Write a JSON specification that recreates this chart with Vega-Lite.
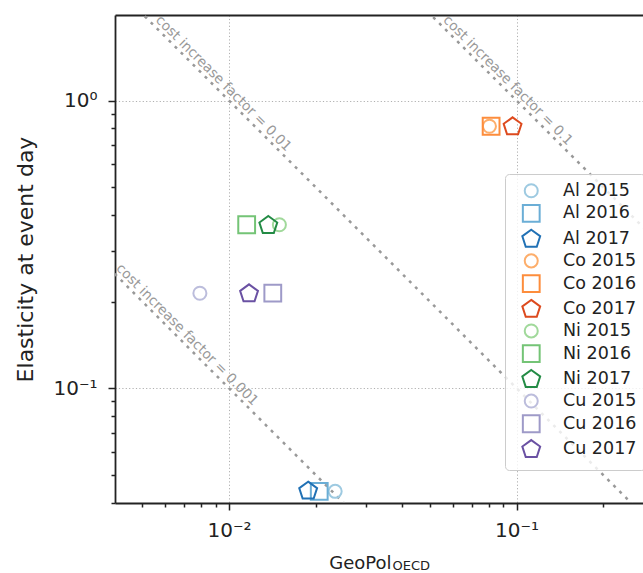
{
  "$schema": "https://vega.github.io/schema/vega-lite/v6.json",
  "width": 528,
  "height": 488,
  "autosize": "none",
  "padding": {"left": 115, "top": 15, "right": 0, "bottom": 70},
  "background": "white",
  "config": {
    "font": "DejaVu Sans",
    "view": {"stroke": null},
    "axis": {
      "domainColor": "#222222",
      "domainWidth": 1.8,
      "tickColor": "#222222",
      "tickWidth": 1.5,
      "labelColor": "#222222",
      "titleColor": "#222222",
      "labelFont": "DejaVu Sans",
      "titleFont": "DejaVu Sans",
      "titleFontWeight": "normal",
      "labelFontSize": 20,
      "gridColor": "#b0b0b0",
      "gridDash": [1.2, 2.2],
      "gridWidth": 1
    }
  },
  "datasets": {
    "lines": [
      {"factor": "0.001", "x": 0.003, "y": 0.33333},
      {"factor": "0.001", "x": 0.4, "y": 0.0025},
      {"factor": "0.01", "x": 0.003, "y": 3.33333},
      {"factor": "0.01", "x": 0.4, "y": 0.025},
      {"factor": "0.1", "x": 0.003, "y": 33.3333},
      {"factor": "0.1", "x": 0.4, "y": 0.25}
    ],
    "labels": [
      {"label": "cost increase factor = 0.001", "x": 0.003937, "y": 0.254},
      {"label": "cost increase factor = 0.01", "x": 0.005404, "y": 1.8505},
      {"label": "cost increase factor = 0.1", "x": 0.05404, "y": 1.8505}
    ],
    "points": [
      {"series": "Al 2015", "x": 0.0234, "y": 0.0438},
      {"series": "Al 2016", "x": 0.0206, "y": 0.0438},
      {"series": "Al 2017", "x": 0.01885, "y": 0.0439},
      {"series": "Co 2015", "x": 0.0805, "y": 0.814},
      {"series": "Co 2016", "x": 0.0816, "y": 0.814},
      {"series": "Co 2017", "x": 0.0969, "y": 0.811},
      {"series": "Ni 2015", "x": 0.01497, "y": 0.370},
      {"series": "Ni 2016", "x": 0.01152, "y": 0.370},
      {"series": "Ni 2017", "x": 0.0137, "y": 0.368},
      {"series": "Cu 2015", "x": 0.00792, "y": 0.2138},
      {"series": "Cu 2016", "x": 0.0142, "y": 0.214},
      {"series": "Cu 2017", "x": 0.01174, "y": 0.2130}
    ]
  },
  "resolve": {"axis": {"x": "independent"}},
  "layer": [
    {
      "data": {"name": "lines"},
      "mark": {"type": "line", "clip": true, "color": "#999999", "strokeWidth": 2.5, "strokeDash": [3, 5.5]},
      "encoding": {
        "x": {
          "field": "x", "type": "quantitative",
          "scale": {"type": "log", "domain": [0.004013, 0.2754], "nice": false},
          "axis": {"orient": "top", "labels": false, "ticks": false, "grid": false, "title": null}
        },
        "y": {
          "field": "y", "type": "quantitative",
          "scale": {"type": "log", "domain": [0.03989, 1.983], "nice": false},
          "axis": {"title": "Elasticity at event day"}
        },
        "detail": {"field": "factor", "type": "nominal"}
      }
    },
    {
      "data": {"name": "labels"},
      "mark": {"type": "text", "angle": 45, "align": "left", "baseline": "alphabetic", "dy": -4, "fontSize": 13.7, "color": "#999999"},
      "encoding": {
        "x": {
          "field": "x", "type": "quantitative",
          "scale": {"type": "log", "domain": [0.004013, 0.2754], "nice": false},
          "axis": {"orient": "bottom", "domain": false, "ticks": false, "labels": false, "grid": false,
                   "title": "OECD", "titleFontSize": 13, "titleAlign": "left", "titleX": 277, "titleY": 66.5, "titleBaseline": "alphabetic"}
        },
        "y": {
          "field": "y", "type": "quantitative",
          "scale": {"type": "log", "domain": [0.03989, 1.983], "nice": false},
          "axis": {"title": "Elasticity at event day"}
        },
        "text": {"field": "label", "type": "nominal"}
      }
    },
    {
      "data": {"name": "points"},
      "mark": {"type": "point", "filled": false, "strokeWidth": 2, "size": 225, "opacity": 1},
      "encoding": {
        "x": {
          "field": "x", "type": "quantitative",
          "scale": {"type": "log", "domain": [0.004013, 0.2754], "nice": false},
          "axis": {
            "orient": "bottom",
            "values": [0.004, 0.005, 0.006, 0.007, 0.008, 0.009, 0.01, 0.02, 0.03, 0.04, 0.05, 0.06, 0.07, 0.08, 0.09, 0.1, 0.2],
            "labelExpr": "datum.value == 0.01 ? '10⁻²' : datum.value == 0.1 ? '10⁻¹' : ''",
            "labelOverlap": false,
            "labelFlush": false,
            "labelFontSize": 20,
            "labelPadding": 10,
            "tickSize": {"condition": {"test": "datum.value == 0.01 || datum.value == 0.1", "value": 7}, "value": 4},
            "grid": true,
            "gridOpacity": {"condition": {"test": "datum.value == 0.01 || datum.value == 0.1", "value": 1}, "value": 0},
            "title": "GeoPol",
            "titleFontSize": 18,
            "titleAlign": "right",
            "titleX": 276,
            "titleY": 65,
            "titleBaseline": "alphabetic"
          }
        },
        "y": {
          "field": "y", "type": "quantitative",
          "scale": {"type": "log", "domain": [0.03989, 1.983], "nice": false},
          "axis": {
            "values": [0.04, 0.05, 0.06, 0.07, 0.08, 0.09, 0.1, 0.2, 0.3, 0.4, 0.5, 0.6, 0.7, 0.8, 0.9, 1, 2],
            "labelExpr": "datum.value == 1 ? '10⁰' : datum.value == 0.1 ? '10⁻¹' : ''",
            "labelOverlap": false,
            "labelFlush": false,
            "labelFontSize": 20,
            "labelPadding": 11,
            "tickSize": {"condition": {"test": "datum.value == 1 || datum.value == 0.1", "value": 7}, "value": 4},
            "grid": true,
            "gridOpacity": {"condition": {"test": "datum.value == 1 || datum.value == 0.1", "value": 1}, "value": 0},
            "title": "Elasticity at event day",
            "titleFontSize": 22,
            "titleX": -83,
            "titleBaseline": "alphabetic"
          }
        },
        "color": {
          "field": "series", "type": "nominal",
          "scale": {
            "domain": ["Al 2015", "Al 2016", "Al 2017", "Co 2015", "Co 2016", "Co 2017", "Ni 2015", "Ni 2016", "Ni 2017", "Cu 2015", "Cu 2016", "Cu 2017"],
            "range": ["#9ecae1", "#6baed6", "#2171b5", "#fdae6b", "#fd8d3c", "#dd4a1e", "#a1d99b", "#74c476", "#238b45", "#bcbddc", "#9e9ac8", "#6a51a3"]
          },
          "legend": {
            "orient": "none", "legendX": 390, "legendY": 159, "title": null,
            "padding": 8, "symbolOffset": 9.5, "labelOffset": 23, "rowPadding": -1.3,
            "symbolSize": 225, "symbolStrokeWidth": 2, "labelFontSize": 17.5, "labelColor": "#222222",
            "fillColor": "rgba(255,255,255,0.8)", "strokeColor": "#cccccc", "cornerRadius": 4
          }
        },
        "shape": {
          "field": "series", "type": "nominal",
          "scale": {
            "domain": ["Al 2015", "Al 2016", "Al 2017", "Co 2015", "Co 2016", "Co 2017", "Ni 2015", "Ni 2016", "Ni 2017", "Cu 2015", "Cu 2016", "Cu 2017"],
            "range": [
              "M0.87,0A0.87,0.87 0 1,1 -0.87,0A0.87,0.87 0 1,1 0.87,0Z",
              "M-1.12,-1.12H1.12V1.12H-1.12Z",
              "M0,-1.25L1.189,-0.386L0.735,1.011L-0.735,1.011L-1.189,-0.386Z",
              "M0.87,0A0.87,0.87 0 1,1 -0.87,0A0.87,0.87 0 1,1 0.87,0Z",
              "M-1.12,-1.12H1.12V1.12H-1.12Z",
              "M0,-1.25L1.189,-0.386L0.735,1.011L-0.735,1.011L-1.189,-0.386Z",
              "M0.87,0A0.87,0.87 0 1,1 -0.87,0A0.87,0.87 0 1,1 0.87,0Z",
              "M-1.12,-1.12H1.12V1.12H-1.12Z",
              "M0,-1.25L1.189,-0.386L0.735,1.011L-0.735,1.011L-1.189,-0.386Z",
              "M0.87,0A0.87,0.87 0 1,1 -0.87,0A0.87,0.87 0 1,1 0.87,0Z",
              "M-1.12,-1.12H1.12V1.12H-1.12Z",
              "M0,-1.25L1.189,-0.386L0.735,1.011L-0.735,1.011L-1.189,-0.386Z"
            ]
          }
        }
      }
    }
  ]
}
